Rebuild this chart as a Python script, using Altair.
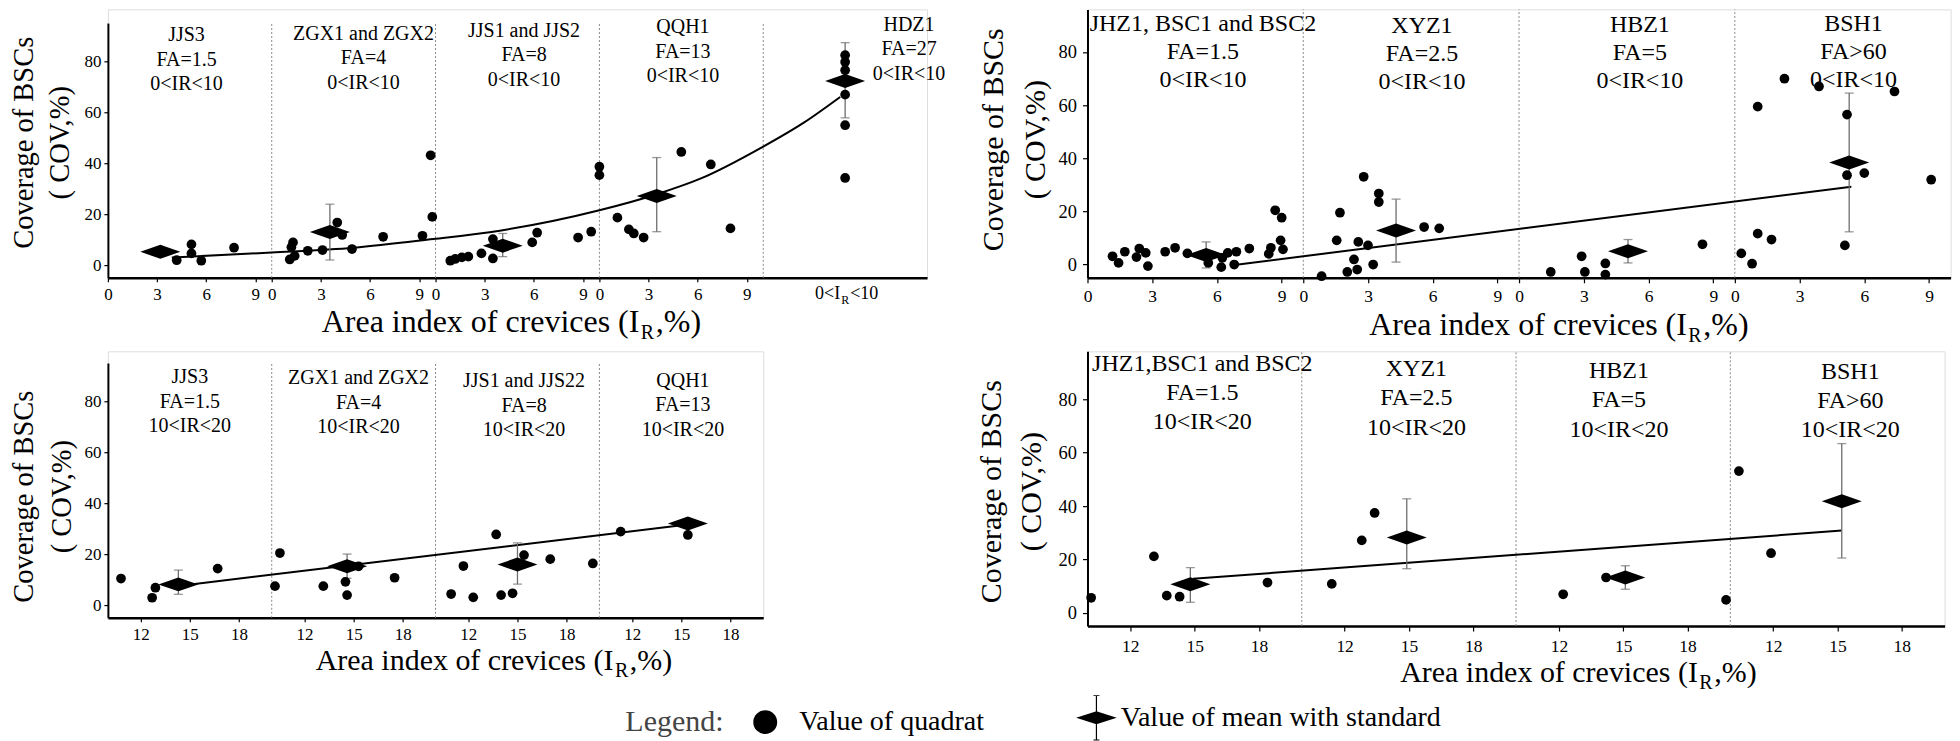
import altair as alt
import pandas as pd

FONT = "Liberation Serif"
DIAMOND = "M-2,0L0,-0.7L2,0L0,0.7Z"
# legend symbol: diamond with a standard-deviation bar (drawn a little to the right of its anchor)
LEG_DIAMOND = ("M-0.9,0L0.8,-0.55L2.5,0L0.8,0.55Z"
               "M0.75,-1.85L0.85,-1.85L0.85,1.85L0.75,1.85Z"
               "M0.55,-1.9L1.05,-1.9L1.05,-1.82L0.55,-1.82Z"
               "M0.55,1.82L1.05,1.82L1.05,1.9L0.55,1.9Z")
Q_LABEL = "Value of quadrat"
M_LABEL = "Value of mean with standard"

# ---------------- Top-left: 0<IR<10, sections JJS3 / ZGX / JJS / QQH1 / HDZ1 (x = section*10 + IR)
tl_pt_x = [4.2, 5.1, 5.1, 5.7, 7.7, 11.1, 11.2, 11.3, 11.4, 12.2, 13.1, 14.0, 14.3, 14.9, 16.8,
           19.2, 19.7, 19.8, 20.9, 21.2, 21.6, 22.0, 22.8, 23.5, 23.5, 25.9, 26.2, 28.7, 29.5,
           30.0, 30.0, 31.1, 31.8, 32.1, 32.7, 35.0, 36.8, 38.0, 45, 45, 45, 45, 45, 45, 45]
tl_pt_y = [1.9, 8.1, 4.6, 1.7, 6.8, 2.2, 7.0, 8.9, 3.6, 5.6, 5.9, 16.7, 11.8, 6.3, 11.1,
           11.5, 43.1, 18.9, 1.7, 2.4, 3.0, 3.3, 4.6, 2.6, 10.2, 8.9, 12.7, 10.8, 13.1,
           38.6, 35.3, 18.6, 14.0, 12.4, 10.8, 44.4, 39.5, 14.4, 82.4, 79.7, 76.5, 71.9, 66.9, 54.9, 34.2]
tl_mean_x = [3.2, 13.55, 24.1, 33.5, 45.0]
tl_mean_y = [5.2, 13.0, 7.6, 27.1, 72.3]
tl_lo = [4.2, 2.0, 3.3, 13.1, 57.8]
tl_hi = [6.2, 23.9, 12.4, 42.2, 87.3]
tl_fit_x = [3.9, 10, 15, 19.85, 23.3, 30, 33.5, 36.2, 40, 42.5, 44.7]
tl_fit_y = [3.0, 4.9, 6.8, 10.2, 12.9, 21.5, 27.8, 34.0, 46.5, 56.0, 66.0]
tl_names = ["JJS3", "ZGX1 and ZGX2", "JJS1 and JJS2", "QQH1", "HDZ1"]
tl_fa = ["FA=1.5", "FA=4", "FA=8", "FA=13", "FA=27"]
tl_range = "0<IR<10"
tl_lab_x = [4.8, 15.6, 25.4, 35.1, 48.9]
tl_lab_y = [87.8, 88.4, 89.7, 91.0, 92.0]
tl_bounds = [10, 20, 30, 40]

# ---------------- Top-right: 0<IR<10, JHZ1/BSC / XYZ1 / HBZ1 / BSH1
tr_pt_x = [1.16, 1.44, 1.73, 2.27, 2.4, 2.7, 2.8, 3.6, 4.06, 4.63, 5.5, 5.6, 6.2, 6.25, 6.5, 6.8,
           6.9, 7.5, 8.4, 8.5, 8.7, 9.0, 8.95, 9.06,
           10.85, 11.55, 11.7, 12.04, 12.35, 12.5, 12.55, 12.8, 13.0, 13.24, 13.5, 13.5, 15.6, 16.3,
           21.47, 22.9, 23.05, 24.0, 24.0, 28.5,
           30.3, 30.8, 31.06, 31.06, 31.7, 32.3, 33.9, 35.2, 35.1, 35.2, 36.0, 37.4, 39.1]
tr_pt_y = [3.1, 0.6, 4.8, 2.8, 6.0, 4.4, -0.6, 4.8, 6.3, 4.2, 3.5, 0.6, -1.0, 2.5, 4.4, 0.0,
           4.8, 6.0, 4.0, 6.3, 20.4, 17.6, 9.1, 5.7,
           -4.4, 9.1, 19.5, -2.8, 1.9, -1.9, 8.5, 33.0, 7.2, 0.0, 26.7, 23.5, 14.1, 13.6,
           -2.8, 3.1, -2.8, 0.4, -3.8, 7.6,
           4.2, 0.3, 59.4, 11.6, 9.4, 69.9, 67.0, 56.4, 7.2, 33.6, 34.4, 65.1, 31.9]
tr_mean_x = [5.5, 14.3, 25.05, 35.3]
tr_mean_y = [3.6, 12.8, 5.0, 38.4]
tr_lo = [-1.3, 0.9, 0.6, 12.3]
tr_hi = [8.5, 24.6, 9.4, 64.5]
tr_fit_x = [6.9, 35.4]
tr_fit_y = [-0.1, 29.3]
tr_names = ["JHZ1, BSC1 and BSC2", "XYZ1", "HBZ1", "BSH1"]
tr_fa = ["FA=1.5", "FA=2.5", "FA=5", "FA>60"]
tr_range = "0<IR<10"
tr_lab_x = [5.35, 15.5, 25.6, 35.5]
tr_lab_y = [88.0, 87.0, 87.5, 88.0]
tr_bounds = [10, 20, 30]

# ---------------- Bottom-left: 10<IR<20 (x = section*10 + IR - 10)
bl_pt_x = [0.8, 2.7, 2.9, 6.7, 10.2, 10.5, 13.15, 14.5, 14.6, 15.3, 17.5,
           20.95, 21.7, 22.3, 23.7, 24.0, 24.7, 25.4, 27.0, 29.6, 31.3, 35.4]
bl_pt_y = [10.4, 2.85, 6.8, 14.3, 7.4, 20.4, 7.4, 9.1, 3.9, 15.2, 10.7,
           4.3, 15.3, 3.0, 27.7, 3.9, 4.6, 19.6, 18.0, 16.3, 28.8, 27.5]
bl_mean_x = [4.3, 14.6, 25.0, 35.4]
bl_mean_y = [8.1, 15.2, 15.9, 32.0]
bl_lo = [4.2, 10.5, 8.2, 31.0]
bl_hi = [13.7, 20.0, 24.4, 33.0]
bl_fit_x = [4.3, 35.4]
bl_fit_y = [7.5, 31.6]
bl_names = ["JJS3", "ZGX1 and ZGX2", "JJS1 and JJS22", "QQH1"]
bl_fa = ["FA=1.5", "FA=4", "FA=8", "FA=13"]
bl_range = "10<IR<20"
bl_lab_x = [5.0, 15.3, 25.4, 35.1]
bl_lab_y = [87.1, 86.7, 85.4, 85.7]
bl_bounds = [10, 20, 30]

# ---------------- Bottom-right: 10<IR<20
br_pt_x = [0.17, 3.1, 3.7, 4.3, 8.4, 11.4, 12.8, 13.4, 22.2, 24.2, 29.8, 30.4, 31.9]
br_pt_y = [5.6, 21.1, 6.4, 6.0, 11.3, 10.8, 27.1, 37.4, 6.9, 13.2, 4.8, 53.1, 22.3]
br_mean_x = [4.8, 14.9, 25.1, 35.2]
br_mean_y = [10.7, 28.2, 13.2, 41.8]
br_lo = [3.9, 16.5, 8.8, 20.5]
br_hi = [16.9, 42.7, 17.6, 63.4]
br_fit_x = [4.93, 35.2]
br_fit_y = [12.7, 30.8]
br_names = ["JHZ1,BSC1 and BSC2", "XYZ1", "HBZ1", "BSH1"]
br_fa = ["FA=1.5", "FA=2.5", "FA=5", "FA>60"]
br_range = "10<IR<20"
br_lab_x = [5.36, 15.35, 24.8, 35.6]
br_lab_y = [90.8, 88.9, 88.1, 87.8]
br_bounds = [10, 20, 30]

ticks_low = [0, 3, 6, 9, 10, 13, 16, 19, 20, 23, 26, 29, 30, 33, 36, 39]
ticks_high = [2, 5, 8, 12, 15, 18, 22, 25, 28, 32, 35, 38]
y_ticks = [0, 20, 40, 60, 80]
y_title = ["Coverage of BSCs", "( COV,%)"]


def panel(c):
    xaxis = alt.Axis(values=c["xticks"], labelExpr=c["xexpr"], title=None, grid=False,
                     domainColor="black", domainWidth=2.5, tickColor="black", tickWidth=1.2,
                     tickSize=c["xts"], labelPadding=c["xlp"], labelFont=FONT,
                     labelFontSize=c["xtkfs"], labelColor="black", labelOverlap=False,
                     labelFlush=False, labelBound=False)
    if c.get("yrange"):
        yscale = alt.Scale(domain=c["ydom"], nice=False, zero=False, range=c["yrange"])
    else:
        yscale = alt.Scale(domain=c["ydom"], nice=False, zero=False)
    yaxis = alt.Axis(values=y_ticks, title=y_title, grid=False, domainColor="black",
                     domainWidth=2, tickColor="black", tickWidth=1.2, tickSize=c["yts"],
                     labelPadding=c["ylp"], labelFont=FONT, labelFontSize=c["tfs"],
                     labelColor="black", titleFont=FONT, titleFontSize=c["ytfs"],
                     titleFontWeight="normal", titleColor="black", titleAngle=270,
                     titleAlign="center", titleBaseline="alphabetic", titleX=c["ytx"],
                     titleY=c["yty"], titleLineHeight=c["ytlh"])
    xscale = alt.Scale(domain=c["xdom"], nice=False, zero=False)

    def X(f):
        return alt.X(f, type="quantitative", scale=xscale, axis=xaxis)

    def Y(f):
        return alt.Y(f, type="quantitative", scale=yscale, axis=yaxis)

    bdf = pd.DataFrame({"b": c["bounds"], "y0": [c["ydom"][0]] * len(c["bounds"]),
                        "y1": [c["ydom"][1]] * len(c["bounds"])})
    rules = alt.Chart(bdf).mark_rule(color="#8a8a8a", strokeWidth=1, strokeDash=[2, 2]).encode(
        x=X("b"), y=Y("y0"), y2="y1")

    fdf = pd.DataFrame({"x": c["fx"], "y": c["fy"]})
    fit = alt.Chart(fdf).mark_line(color="black", strokeWidth=2, interpolate="monotone").encode(
        x=X("x"), y=Y("y"))

    mdf = pd.DataFrame({"x": c["mx"], "y": c["my"], "lo": c["lo"], "hi": c["hi"]})
    ebar = alt.Chart(mdf).mark_rule(color="#6e6e6e", strokeWidth=1.3).encode(
        x=X("x"), y=Y("lo"), y2="hi")
    cap_lo = alt.Chart(mdf).mark_tick(orient="horizontal", size=9, thickness=1.3,
                                      color="#6e6e6e").encode(x=X("x"), y=Y("lo"))
    cap_hi = alt.Chart(mdf).mark_tick(orient="horizontal", size=9, thickness=1.3,
                                      color="#6e6e6e").encode(x=X("x"), y=Y("hi"))

    pdf = pd.DataFrame({"x": c["px"], "y": c["py"], "kind": [Q_LABEL] * len(c["px"])})
    if c.get("legend"):
        shape = alt.Shape("kind:N", scale=alt.Scale(domain=[Q_LABEL, M_LABEL],
                                                    range=["circle", LEG_DIAMOND]),
                          legend=alt.Legend(orient="none", legendX=c["legx"], legendY=c["legy"],
                                            direction="horizontal", title="Legend:",
                                            titleOrient="left", titleFont=FONT,
                                            titleFontSize=30, titleFontWeight="normal",
                                            titleColor="#444", titlePadding=27,
                                            titleBaseline="middle",
                                            labelFont=FONT, labelFontSize=28,
                                            labelColor="black", labelLimit=500,
                                            labelOffset=20, symbolSize=570,
                                            symbolFillColor="black", symbolStrokeWidth=0,
                                            columnPadding=88))
        pts = alt.Chart(pdf).mark_point(filled=True, color="black", size=95, opacity=1).encode(
            x=X("x"), y=Y("y"), shape=shape)
    else:
        pts = alt.Chart(pdf).mark_point(filled=True, color="black", size=95, opacity=1,
                                        shape="circle").encode(x=X("x"), y=Y("y"))

    dia = alt.Chart(mdf).mark_point(filled=True, color="black", size=400, opacity=1,
                                    shape=DIAMOND).encode(x=X("x"), y=Y("y"))

    ldf = pd.DataFrame({"x": c["lx"], "y": c["ly"],
                        "t": [n + "\n" + f + "\n" + c["lrange"] for n, f in zip(c["lnames"], c["lfa"])]})
    labels = alt.Chart(ldf).mark_text(font=FONT, fontSize=c["lfs"], lineHeight=c["llh"],
                                      lineBreak="\n", align="center", baseline="alphabetic",
                                      color="black").encode(x=X("x"), y=Y("y"), text="t:N")

    # x-axis title: "Area index of crevices (I" + subscript "R" + ",%)"
    fs = c["xtfs"]
    t1 = alt.Chart(pd.DataFrame({"t": [c["xt"][0]]})).mark_text(
        font=FONT, fontSize=fs, align="right", baseline="alphabetic", color="black").encode(
        x=alt.value(c["xtP"]), y=alt.value(c["xtY"]), text="t:N")
    t2 = alt.Chart(pd.DataFrame({"t": [c["xt"][1]]})).mark_text(
        font=FONT, fontSize=20, align="left", baseline="alphabetic", dx=1.5, dy=7,
        color="black").encode(x=alt.value(c["xtP"]), y=alt.value(c["xtY"]), text="t:N")
    t3 = alt.Chart(pd.DataFrame({"t": [c["xt"][2]]})).mark_text(
        font=FONT, fontSize=fs, align="left", baseline="alphabetic", dx=16.5, color="black").encode(
        x=alt.value(c["xtP"]), y=alt.value(c["xtY"]), text="t:N")

    layers = [rules, fit, ebar, cap_lo, cap_hi, pts, dia, labels, t1, t2, t3]

    if c.get("extra_x") is not None:
        edf = pd.DataFrame({"x": [c["extra_x"]], "a": ["0<I"], "b": ["R"], "c": ["<10"]})
        e1 = alt.Chart(edf).mark_text(font=FONT, fontSize=18, align="right", baseline="alphabetic",
                                      dx=-5, color="black").encode(
            x=X("x"), y=alt.value(c["extra_y"]), text="a:N")
        e2 = alt.Chart(edf).mark_text(font=FONT, fontSize=12, align="left", baseline="alphabetic",
                                      dx=-4, dy=5, color="black").encode(
            x=X("x"), y=alt.value(c["extra_y"]), text="b:N")
        e3 = alt.Chart(edf).mark_text(font=FONT, fontSize=18, align="left", baseline="alphabetic",
                                      dx=5, color="black").encode(
            x=X("x"), y=alt.value(c["extra_y"]), text="c:N")
        layers += [e1, e2, e3]

    return alt.layer(*layers).properties(width=c["w"], height=c["h"])


tl = panel(dict(px=tl_pt_x, py=tl_pt_y, mx=tl_mean_x, my=tl_mean_y, lo=tl_lo, hi=tl_hi,
                fx=tl_fit_x, fy=tl_fit_y, lx=tl_lab_x, ly=tl_lab_y, lnames=tl_names, lfa=tl_fa,
                lrange=tl_range, bounds=tl_bounds, xdom=[0, 50], ydom=[-5, 95],
                yrange=[268.7, 13.7], w=820, h=268.7, xticks=ticks_low,
                xexpr="'' + (datum.value % 10)", tfs=17, xtkfs=17, xts=4, xlp=5, yts=4, ylp=3,
                lfs=20, llh=24.5, ytfs=28.5, ytx=-75.7, yty=133, ytlh=36.7,
                xt=["Area index of crevices (I", "R", " ,%)"], xtfs=32, xtP=532, xtY=323,
                extra_x=45, extra_y=290, legend=True, legx=518, legy=695))

tr = panel(dict(px=tr_pt_x, py=tr_pt_y, mx=tr_mean_x, my=tr_mean_y, lo=tr_lo, hi=tr_hi,
                fx=tr_fit_x, fy=tr_fit_y, lx=tr_lab_x, ly=tr_lab_y, lnames=tr_names, lfa=tr_fa,
                lrange=tr_range, bounds=tr_bounds, xdom=[0, 40], ydom=[-5, 96],
                w=864, h=268.7, xticks=ticks_low,
                xexpr="'' + (datum.value % 10)", tfs=18.5, xtkfs=17.5, xts=5, xlp=5, yts=5, ylp=6,
                lfs=24, llh=28, ytfs=30, ytx=-85, yty=130, ytlh=41.7,
                xt=["Area index of crevices (I", "R", " ,%)"], xtfs=32, xtP=600, xtY=326))

bl = panel(dict(px=bl_pt_x, py=bl_pt_y, mx=bl_mean_x, my=bl_mean_y, lo=bl_lo, hi=bl_hi,
                fx=bl_fit_x, fy=bl_fit_y, lx=bl_lab_x, ly=bl_lab_y, lnames=bl_names, lfa=bl_fa,
                lrange=bl_range, bounds=bl_bounds, xdom=[0, 40], ydom=[-5, 95],
                yrange=[266.7, 11.7], w=656, h=266.7, xticks=ticks_high,
                xexpr="'' + (10 + datum.value % 10)", tfs=17, xtkfs=17, xts=4, xlp=5, yts=4, ylp=3,
                lfs=20, llh=24.5, ytfs=28.5, ytx=-75.7, yty=145, ytlh=38,
                xt=["Area index of crevices (I", "R", ",%)"], xtfs=30, xtP=506, xtY=319))

br = panel(dict(px=br_pt_x, py=br_pt_y, mx=br_mean_x, my=br_mean_y, lo=br_lo, hi=br_hi,
                fx=br_fit_x, fy=br_fit_y, lx=br_lab_x, ly=br_lab_y, lnames=br_names, lfa=br_fa,
                lrange=br_range, bounds=br_bounds, xdom=[0, 40], ydom=[-5, 98],
                w=858, h=275, xticks=ticks_high,
                xexpr="'' + (10 + datum.value % 10)", tfs=18.5, xtkfs=17.5, xts=5, xlp=6, yts=5, ylp=6,
                lfs=24, llh=29.5, ytfs=30, ytx=-87, yty=140, ytlh=40,
                xt=["Area index of crevices (I", "R", ",%)"], xtfs=30, xtP=611, xtY=331))

chart = alt.concat(tl, tr, bl, br, columns=2, bounds="flush", align="each",
                   spacing=alt.RowColnumber(row=73.3, column=160.6)).properties(
    padding={"left": 0, "top": 0, "right": 0, "bottom": 0}
).configure_view(stroke=None).configure(font=FONT)

chart.save("out.html", embed_options={"renderer": "svg", "actions": False})
